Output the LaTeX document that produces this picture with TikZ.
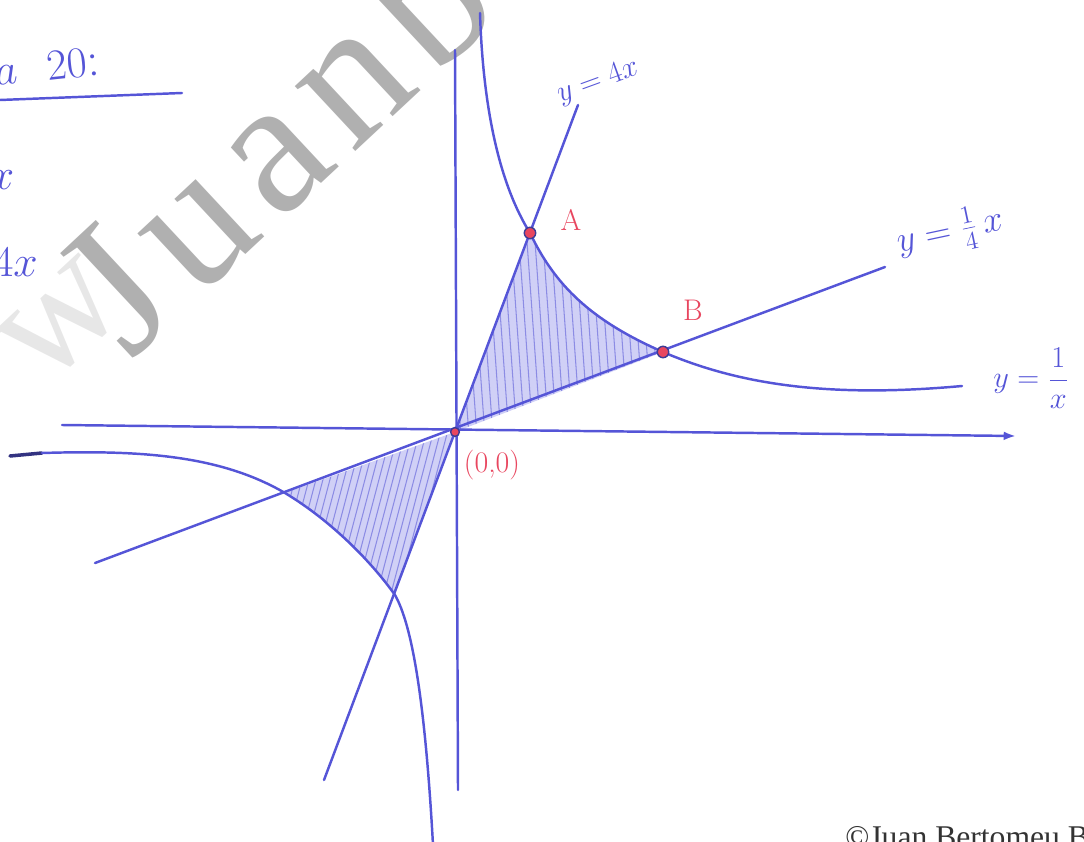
\documentclass[tikz,border=0pt]{standalone}
\usepackage{fontspec}
\newfontfamily\wmfont{Liberation Serif}
\newfontfamily\wmfontsp[LetterSpace=8]{Liberation Serif}
\usetikzlibrary{arrows.meta}
\definecolor{ink}{RGB}{85,85,215}
\definecolor{redink}{RGB}{232,70,95}
\definecolor{shadeblue}{RGB}{208,208,246}
\definecolor{wmgray}{RGB}{176,176,176}
\begin{document}
\begin{tikzpicture}[x=0.02cm,y=-0.02cm,
  pen/.style={draw=ink,line width=1.4pt,line cap=round,line join=round},
  hatchline/.style={draw=ink,line width=0.6pt,opacity=0.55},
  dotpt/.style={circle,fill=redink,draw=ink!70!black,line width=0.8pt,inner sep=0pt,minimum size=6.5pt},
  hand/.style={text=ink,font=\fontsize{18}{20}\selectfont,inner sep=0pt},
  redlabel/.style={text=redink,font=\fontsize{17}{19}\selectfont,inner sep=0pt}
]
\useasboundingbox (0,0) rectangle (1084,841);
\clip (0,0) rectangle (1084,841);

% watermark
\node[text=wmgray,font=\wmfontsp\fontsize{110}{110}\selectfont,rotate=43,anchor=base west,inner sep=0pt] (wmk) at (130,362) {Juanbertomeu};
\node[text=wmgray,opacity=0.3,font=\wmfont\fontsize{95}{95}\selectfont,rotate=43,inner sep=0pt] (wmw) at (62,322) {w};

% key points
\coordinate (O) at (455,432);
\coordinate (A) at (530,233);
\coordinate (B) at (663,352);
\coordinate (P) at (285,493);
\coordinate (Q) at (395,595);

% shaded regions
\fill[shadeblue] (O) -- (A) .. controls (555,285) and (590,320) .. (B) -- cycle;
\begin{scope}
  \clip (O) -- (A) .. controls (555,285) and (590,320) .. (B) -- cycle;
  \foreach \x in {420,428,...,700} \draw[hatchline] (\x,200) -- (\x+18,450);
\end{scope}
\fill[shadeblue] (O) -- (P) .. controls (330,520) and (370,560) .. (Q) -- cycle;
\begin{scope}
  \clip (O) -- (P) .. controls (330,520) and (370,560) .. (Q) -- cycle;
  \foreach \x in {280,287,...,520} \draw[hatchline] (\x,430) -- (\x-50,620);
\end{scope}

% axes
\coordinate (xl) at (62,425);
\coordinate (xr) at (1016,436);
\coordinate (yt) at (455,50);
\coordinate (yb) at (458,790);
\draw[pen,-{Latex[length=7pt,width=5pt]}] (xl) -- (xr);
\draw[pen] (yt) -- (yb);

% lines y=4x and y=x/4
\coordinate (L1a) at (324,780);
\coordinate (L1b) at (578,105);
\coordinate (L2a) at (95,563);
\coordinate (L2b) at (885,267);
\draw[pen] (L1a) -- (L1b);
\draw[pen] (L2a) -- (L2b);

% hyperbola, upper branch
\coordinate (H1) at (480,13);
\coordinate (H2) at (962,386);
\draw[pen] (H1) .. controls (483,110) and (500,185) .. (A)
           .. controls (555,285) and (590,320) .. (B)
           .. controls (740,385) and (830,398) .. (H2);

% hyperbola, lower branch
\coordinate (G0) at (10,456);
\coordinate (G1) at (42,453);
\coordinate (G2) at (433,845);
\draw[draw=ink!60!black,line width=2pt,line cap=round] (G0) -- (G1);
\draw[pen] (G1) .. controls (140,450) and (220,455) .. (P)
           .. controls (330,520) and (370,560) .. (Q)
           .. controls (412,625) and (425,700) .. (G2);

% points
\node[dotpt] (dA) at (A) {};
\node[dotpt] (dB) at (B) {};
\node[dotpt,minimum size=5pt] (dO) at (O) {};

% labels
\node[redlabel] (lA) at (571,220) {A};
\node[redlabel] (lB) at (693,310) {B};
\node[redlabel] (lO) at (492,465) {(0,0)};
\node[hand,rotate=20] (l4x) at (598,82) {$y=4x$};
\node[hand,rotate=12,font=\fontsize{21}{23}\selectfont] (lq) at (950,232) {$y=\frac{1}{4}\,x$};
\node[hand,anchor=west] (lh) at (993,378) {$y=\displaystyle\frac{1}{x}$};

% left fragments
\node[text=ink,font=\fontsize{28}{30}\selectfont,rotate=6,anchor=base west,inner sep=0pt] (ttl) at (-4,86) {$a$\ \ $20$:};
\coordinate (u1) at (0,100);
\coordinate (u2) at (182,93);
\draw[pen] (u1) -- (u2);
\node[text=ink,font=\fontsize{26}{28}\selectfont,inner sep=0pt] (fx) at (2,180) {$x$};
\node[text=ink,font=\fontsize{26}{28}\selectfont,inner sep=0pt,anchor=east] (f4x) at (38,262) {$4x$};

% copyright
\node[text=black!80,font=\wmfont\fontsize{18}{18}\selectfont,anchor=north west,inner sep=0pt] (cr) at (845,826) {©Juan Bertomeu B};
\end{tikzpicture}
\end{document}
